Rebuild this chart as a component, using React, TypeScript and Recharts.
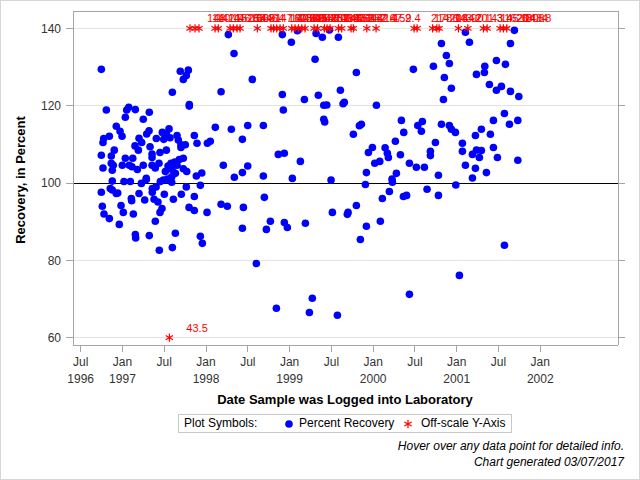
import { CartesianGrid, ReferenceLine, Scatter, ScatterChart, XAxis, YAxis } from "recharts";

const FONT = '"Liberation Sans", Arial, Helvetica, sans-serif';
const FRAME = "#a5a5a5";

// x axis: decimal years, Jul/Jan ticks
const xTicks = [1996.5, 1997, 1997.5, 1998, 1998.5, 1999, 1999.5, 2000, 2000.5, 2001, 2001.5, 2002];
const xTickMonths = ["Jul", "Jan", "Jul", "Jan", "Jul", "Jan", "Jul", "Jan", "Jul", "Jan", "Jul", "Jan"];
const xTickYears = ["1996", "1997", "", "1998", "", "1999", "", "2000", "", "2001", "", "2002"];
const yTicks = [60, 80, 100, 120, 140];

// [date logged (decimal year), percent recovery]
const recoveryPoints: [number, number][] = [
  [1996.747, 129.4], [1998.267, 138.4], [1998.335, 133.5], [1997.692, 128.9], [1997.788, 129.2],
  [1997.764, 127.8], [1997.728, 126.8], [1997.597, 123.5], [1998.18, 123.6], [1997.8, 120.3],
  [1997.8, 119.9], [1996.807, 118.9], [1997.051, 118.9], [1997.075, 119.6], [1997.154, 119.0],
  [1997.321, 118.3], [1997.034, 117.0], [1997.249, 116.5], [1996.926, 114.7], [1996.971, 113.4],
  [1996.995, 112.1], [1996.775, 111.5], [1996.767, 110.5], [1996.843, 112.1], [1997.318, 113.5],
  [1997.29, 112.7], [1997.477, 113.1], [1997.557, 114.0], [1997.525, 112.7], [1997.405, 111.5],
  [1997.494, 111.3], [1997.569, 111.7], [1997.653, 112.3], [1997.668, 111.1], [1997.198, 111.6],
  [1997.23, 110.5], [1997.15, 109.6], [1997.19, 108.5], [1997.33, 109.4], [1996.902, 108.5],
  [1996.866, 107.0], [1996.747, 107.2], [1997.034, 106.4], [1997.123, 106.4], [1997.354, 107.5],
  [1997.354, 106.6], [1997.449, 107.9], [1997.525, 108.5], [1997.7, 109.9], [1997.752, 109.9],
  [1997.7, 109.2], [1997.86, 112.3], [1997.892, 110.3], [1998.016, 110.3], [1998.051, 110.8],
  [1998.111, 114.4], [1998.303, 113.9], [1998.499, 114.9], [1998.435, 111.3], [1998.207, 104.6],
  [1998.339, 101.5], [1998.435, 102.7], [1998.499, 104.4], [1996.767, 103.9], [1996.866, 105.1],
  [1996.89, 104.6], [1996.878, 103.3], [1996.998, 104.6], [1997.082, 104.6], [1997.114, 104.2],
  [1997.178, 103.5], [1997.249, 104.6], [1997.354, 104.6], [1997.393, 103.9], [1997.437, 105.1],
  [1997.545, 104.4], [1997.581, 105.1], [1997.625, 105.4], [1997.653, 104.6], [1997.68, 106.1],
  [1997.728, 106.4], [1997.728, 103.7], [1997.769, 103.0], [1997.593, 103.5], [1997.513, 103.0],
  [1997.633, 102.5], [1997.589, 101.6], [1997.285, 101.2], [1997.884, 101.8], [1997.949, 102.6],
  [1996.878, 100.5], [1997.018, 100.4], [1997.094, 100.4], [1997.226, 99.9], [1997.285, 100.9],
  [1997.453, 100.4], [1997.489, 100.8], [1997.537, 101.0], [1997.589, 100.2], [1996.747, 97.6],
  [1996.854, 98.6], [1996.878, 98.2], [1996.926, 97.3], [1996.943, 97.4], [1997.106, 96.0],
  [1997.11, 95.4], [1997.198, 97.3], [1997.266, 95.6], [1997.357, 98.6], [1997.357, 97.6],
  [1997.402, 99.0], [1997.378, 95.8], [1997.425, 95.1], [1997.501, 97.1], [1997.609, 95.8],
  [1997.704, 97.1], [1997.764, 99.0], [1997.86, 96.5], [1997.932, 99.4], [1996.759, 94.0],
  [1996.983, 94.2], [1996.779, 92.0], [1996.843, 90.8], [1997.01, 92.4], [1997.13, 92.0],
  [1996.962, 89.3], [1997.473, 93.4], [1997.449, 92.4], [1997.393, 90.1], [1997.797, 93.7],
  [1997.86, 92.9], [1998.012, 92.4], [1998.18, 94.5], [1998.255, 94.0], [1998.447, 93.7],
  [1998.435, 88.3], [1997.154, 86.7], [1997.158, 85.8], [1997.321, 86.4], [1997.633, 87.0],
  [1997.932, 86.2], [1997.956, 84.4], [1997.597, 83.3], [1997.441, 82.6], [1998.913, 138.4],
  [1999.021, 136.4], [1999.093, 139.4], [1999.317, 138.7], [1999.392, 137.7], [1999.476, 139.6],
  [1999.584, 137.7], [1999.305, 132.0], [1999.799, 128.6], [2000.481, 129.4], [1998.554, 126.8],
  [1998.913, 122.9], [1999.177, 121.6], [1999.344, 122.7], [1999.608, 124.0], [1998.925, 118.9],
  [1999.409, 120.1], [1999.445, 120.2], [1999.655, 120.9], [1999.64, 120.5], [2000.039, 120.1],
  [1999.409, 116.5], [1999.42, 115.8], [1998.686, 114.9], [1999.859, 115.2], [1999.835, 114.8],
  [1999.763, 112.6], [2000.338, 116.2], [2000.589, 115.9], [2000.534, 114.9], [2000.577, 113.4],
  [2000.366, 113.1], [2000.266, 110.8], [1999.991, 109.2], [1999.943, 107.9], [2000.143, 109.1],
  [2000.17, 107.7], [2000.182, 106.6], [2000.326, 107.3], [1998.865, 107.4], [1998.937, 107.7],
  [1999.129, 105.6], [2000.019, 105.1], [2000.079, 105.6], [2000.434, 105.1], [2000.517, 104.1],
  [2000.613, 104.1], [1999.919, 102.7], [2000.278, 102.5], [2000.226, 101.0], [1998.686, 101.8],
  [1999.033, 101.2], [1999.496, 100.8], [1999.907, 99.6], [2000.23, 100.2], [2000.645, 98.4],
  [1998.698, 96.3], [1998.722, 88.0], [1998.77, 90.1], [1998.937, 89.8], [1998.973, 88.5],
  [1999.189, 89.6], [1999.512, 92.4], [1999.691, 91.9], [1999.7, 92.4], [1999.799, 94.2],
  [1999.919, 88.8], [1999.847, 85.4], [2000.086, 90.1], [2000.11, 96.0], [2000.194, 97.8],
  [2000.362, 96.5], [2000.4, 96.8], [1998.602, 79.2], [1998.842, 67.6], [1999.237, 66.5],
  [1999.272, 70.2], [1999.572, 65.8], [2000.434, 71.2], [2001.104, 139.0], [2001.69, 139.5],
  [2000.817, 136.1], [2001.152, 136.4], [2001.643, 136.1], [2000.876, 133.0], [2000.912, 130.9],
  [2000.721, 130.2], [2001.336, 130.2], [2001.331, 128.6], [2001.236, 128.1], [2001.475, 131.7],
  [2001.583, 130.7], [2000.852, 127.3], [2000.936, 124.5], [2000.841, 121.6], [2001.391, 125.5],
  [2001.475, 124.0], [2001.535, 125.0], [2001.643, 123.7], [2001.743, 122.4], [2001.571, 118.0],
  [2001.439, 116.2], [2001.731, 116.2], [2001.631, 115.2], [2000.817, 115.2], [2000.912, 114.9],
  [2000.936, 113.9], [2000.984, 113.1], [2001.295, 113.9], [2001.224, 112.3], [2001.403, 112.6],
  [2000.745, 110.5], [2001.068, 110.3], [2000.685, 108.2], [2000.685, 107.1], [2001.068, 108.2],
  [2001.188, 107.4], [2001.236, 108.5], [2001.295, 108.4], [2001.271, 106.6], [2001.439, 109.2],
  [2001.487, 106.6], [2001.731, 105.9], [2001.104, 104.6], [2001.224, 103.8], [2001.355, 102.7],
  [2001.188, 101.3], [2000.781, 102.0], [2000.781, 96.8], [2000.989, 99.5], [2001.571, 83.9],
  [2001.032, 76.1],
];

// samples whose recovery falls outside the 60-140 axis
const offScaleDates = [
  1997.561, 1997.808, 1997.868, 1997.916, 1998.108, 1998.147, 1998.287, 1998.327, 1998.371, 1998.407,
  1998.614, 1998.778, 1998.808, 1998.846, 1998.886, 1998.925, 1999.026, 1999.065, 1999.105, 1999.146,
  1999.185, 1999.293, 1999.335, 1999.416, 1999.448, 1999.484, 1999.584, 1999.624, 1999.736, 1999.763,
  1999.924, 2000.035, 2000.49, 2000.526, 2000.711, 2000.762, 2000.789, 2001.02, 2001.133, 2001.319,
  2001.364, 2001.519, 2001.559, 2001.599,
];
const offScaleValues = [
  43.5, 148.2, 140.4, 141.9, 146.5, 152.0, 163.8, 150.6, 144.1, 169.4,
  147.7, 160.3, 142.6, 173.0, 146.9, 158.5, 141.2, 166.8, 155.3, 148.0,
  142.7, 151.9, 149.4, 188.6, 145.1, 143.5, 152.8, 164.2, 157.6, 142.4,
  147.9, 152.4, 214.6, 178.1, 208.9, 143.2, 144.0, 201.3, 143.4, 145.6,
  162.0, 204.8, 180.4, 148.8,
];

const recoveryData = recoveryPoints.map(([date, pct]) => ({ date, pct }));
const offScaleData = offScaleDates.map((date, i) => ({
  date,
  pct: offScaleValues[i] > 140 ? 140 : 60,
  label: offScaleValues[i].toFixed(1),
}));

function asteriskPath(cx: number, cy: number, r: number) {
  const dx = r * Math.cos(Math.PI / 6);
  const dy = r * 0.5;
  return `M${cx},${cy - r}L${cx},${cy + r}M${cx - dx},${cy - dy}L${cx + dx},${cy + dy}M${cx - dx},${cy + dy}L${cx + dx},${cy - dy}`;
}

function Dot(props: any) {
  const { cx, cy } = props;
  return <circle cx={cx} cy={cy} r={3.8} fill="#0000ff" />;
}

function Asterisk(props: any) {
  const { cx, cy, payload } = props;
  return (
    <g>
      <path d={asteriskPath(cx, cy, 4.2)} stroke="#ff0000" strokeWidth={1.2} fill="none" />
      <text x={cx + 17} y={cy - 6} fill="#ff0000" fontSize={11} fontFamily={FONT}>
        {payload.label}
      </text>
    </g>
  );
}

function DateTick(props: any) {
  const { x, y, payload } = props;
  const i = xTicks.indexOf(payload.value);
  return (
    <text x={x} y={y} textAnchor="middle" fontSize={12} fill="#333" fontFamily={FONT}>
      <tspan x={x} dy={12}>{xTickMonths[i]}</tspan>
      {xTickYears[i] ? <tspan x={x} dy={17}>{xTickYears[i]}</tspan> : null}
    </text>
  );
}

const NoLabel = () => <g />;

const crispCss = `
.recharts-cartesian-grid line,
.recharts-reference-line line,
.recharts-cartesian-axis line { shape-rendering: crispEdges; }
`;

export default function App() {
  const xDomain: [number, number] = [1996.408, 2002.93];
  const yDomain: [number, number] = [58.1, 144.5];
  return (
    <div style={{ position: "absolute", left: 0, top: 0, width: 640, height: 480, background: "#fff", fontFamily: FONT }}>
      <style>{crispCss}</style>
      <ScatterChart width={640} height={480} margin={{ top: 10, right: 21, bottom: 95, left: 13 }}>
        <CartesianGrid vertical={false} stroke="#e3e3e3" />
        <XAxis
          type="number"
          dataKey="date"
          domain={xDomain}
          ticks={xTicks}
          interval={0}
          allowDataOverflow
          height={40}
          tickSize={7}
          tickMargin={2}
          tick={<DateTick />}
          stroke={FRAME}
          axisLine={{ stroke: FRAME }}
          tickLine={{ stroke: FRAME }}
        />
        <XAxis
          xAxisId="top"
          orientation="top"
          type="number"
          domain={xDomain}
          ticks={xTicks}
          allowDataOverflow
          height={1}
          tick={false}
          tickLine={false}
          axisLine={{ stroke: FRAME }}
        />
        <YAxis
          type="number"
          dataKey="pct"
          domain={yDomain}
          ticks={yTicks}
          interval={0}
          allowDataOverflow
          width={60}
          tickSize={7}
          tickMargin={5}
          tick={{ fontSize: 12, fill: "#333", fontFamily: FONT }}
          axisLine={{ stroke: FRAME }}
          tickLine={{ stroke: FRAME }}
        />
        <YAxis
          yAxisId="right"
          orientation="right"
          type="number"
          domain={yDomain}
          ticks={yTicks}
          interval={0}
          allowDataOverflow
          width={1}
          tickSize={7}
          tick={<NoLabel />}
          axisLine={{ stroke: FRAME }}
          tickLine={{ stroke: FRAME }}
        />
        <ReferenceLine y={100} stroke="#000" strokeWidth={1} />
        <Scatter data={recoveryData} shape={<Dot />} isAnimationActive={false} />
        <Scatter data={offScaleData} shape={<Asterisk />} isAnimationActive={false} />
      </ScatterChart>

      <div
        style={{
          position: "absolute", left: 20, top: 180, transform: "translate(-50%, -50%) rotate(-90deg)",
          fontSize: 13, fontWeight: "bold", whiteSpace: "nowrap", color: "#000",
        }}
      >
        Recovery, in Percent
      </div>
      <div
        style={{
          position: "absolute", left: 345, top: 399, transform: "translate(-50%, -50%)",
          fontSize: 13, fontWeight: "bold", whiteSpace: "nowrap", color: "#000",
        }}
      >
        Date Sample was Logged into Laboratory
      </div>

      <div
        style={{
          position: "absolute", left: 178, top: 414, width: 334, height: 19, boxSizing: "border-box",
          border: "1px solid #c8c8c8", fontSize: 12, color: "#000", lineHeight: "17px",
        }}
      >
        <span style={{ position: "absolute", left: 5 }}>Plot Symbols:</span>
        <svg style={{ position: "absolute", left: 104, top: 3 }} width={12} height={12}>
          <circle cx={6} cy={6} r={3.8} fill="#0000ff" />
        </svg>
        <span style={{ position: "absolute", left: 120 }}>Percent Recovery</span>
        <svg style={{ position: "absolute", left: 223, top: 3 }} width={12} height={12}>
          <path d={asteriskPath(6, 6, 4.2)} stroke="#ff0000" strokeWidth={1.2} fill="none" />
        </svg>
        <span style={{ position: "absolute", left: 242 }}>Off-scale Y-Axis</span>
      </div>

      <div style={{ position: "absolute", right: 16, top: 439, fontSize: 12, fontStyle: "italic", color: "#000", whiteSpace: "nowrap", lineHeight: "15px" }}>
        Hover over any data point for detailed info.
      </div>
      <div style={{ position: "absolute", right: 16, top: 455, fontSize: 12, fontStyle: "italic", color: "#000", whiteSpace: "nowrap", lineHeight: "15px" }}>
        Chart generated 03/07/2017
      </div>

      <div style={{ position: "absolute", left: 0, top: 0, width: 640, height: 480, boxSizing: "border-box", border: "1px solid #d6d6d6", pointerEvents: "none" }} />
    </div>
  );
}
